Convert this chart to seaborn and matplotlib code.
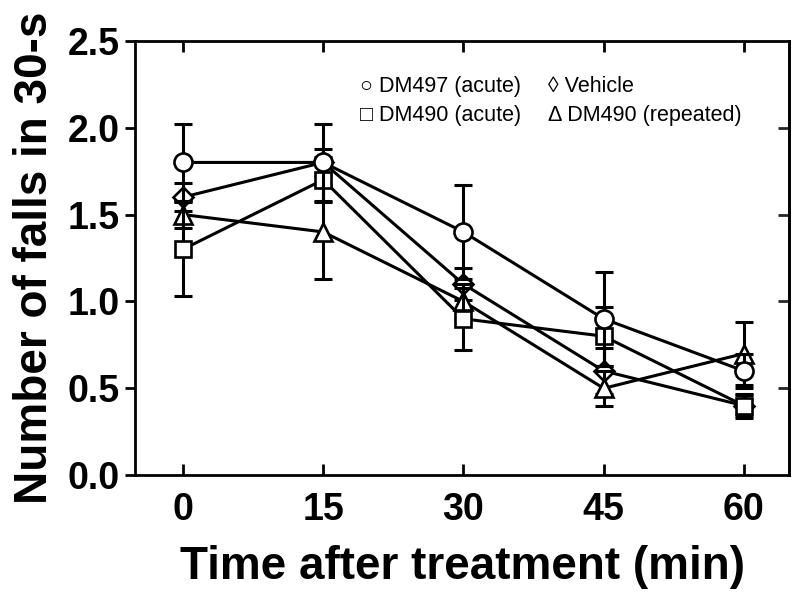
import matplotlib
matplotlib.use("Agg")
import matplotlib.pyplot as plt
import seaborn as sns
import pandas as pd

time_min = [0, 15, 30, 45, 60]

dm497_acute = [1.8, 1.8, 1.4, 0.9, 0.6]
dm497_acute_err = [0.22, 0.22, 0.27, 0.27, 0.10]

vehicle = [1.6, 1.8, 1.1, 0.6, 0.4]
vehicle_err = [0.08, 0.08, 0.09, 0.13, 0.06]

dm490_acute = [1.3, 1.7, 0.9, 0.8, 0.4]
dm490_acute_err = [0.27, 0.13, 0.18, 0.17, 0.07]

dm490_repeated = [1.5, 1.4, 1.0, 0.5, 0.7]
dm490_repeated_err = [0.08, 0.27, 0.10, 0.10, 0.18]

legend_labels = ["\u25cb DM497 (acute)", "\u25ca Vehicle",
                 "\u25a1 DM490 (acute)", "\u0394 DM490 (repeated)"]
x_ticks = [0, 15, 30, 45, 60]
y_ticks = [0.0, 0.5, 1.0, 1.5, 2.0, 2.5]

sns.set_theme(style="ticks")
plt.rcParams["font.family"] = ["Liberation Sans", "DejaVu Sans"]

fig = plt.figure(figsize=(8, 6), dpi=100)
ax = fig.add_axes([0.169, 0.208, 0.817, 0.724])

series = [
    (vehicle, vehicle_err, "D", 10),
    (dm490_repeated, dm490_repeated_err, "^", 13),
    (dm490_acute, dm490_acute_err, "s", 12),
    (dm497_acute, dm497_acute_err, "o", 13),
]

for i, (vals, errs, mk, ms) in enumerate(series):
    df = pd.DataFrame({"t": time_min, "v": vals})
    ax.errorbar(time_min, vals, yerr=errs, fmt="none", ecolor="black",
                elinewidth=2.2, capsize=6.5, capthick=2.2, zorder=2 + i)
    sns.lineplot(data=df, x="t", y="v", ax=ax, color="black", linewidth=2.2,
                 marker=mk, markersize=ms, markerfacecolor="white",
                 markeredgecolor="black", markeredgewidth=1.9,
                 zorder=3 + i)

ax.set_xlim(-5.1, 64.8)
ax.set_ylim(0, 2.5)
ax.set_xticks(x_ticks)
ax.set_yticks(y_ticks)
ax.set_yticklabels([f"{v:.1f}" for v in y_ticks])

for s in ax.spines.values():
    s.set_linewidth(2)
    s.set_color("black")
    s.set_visible(True)

ax.tick_params(axis="x", which="both", direction="in", top=True, bottom=True,
               length=8, width=2, labelsize=27, pad=12, colors="black")
ax.tick_params(axis="y", which="both", direction="out", left=True, right=False,
               length=7, width=2, labelsize=27, pad=4, colors="black")
for lbl in ax.get_xticklabels() + ax.get_yticklabels():
    lbl.set_fontweight("bold")

# right-side inward ticks
ax2 = ax.secondary_yaxis("right")
ax2.set_yticks([0.5, 1.0, 1.5, 2.0])
ax2.tick_params(direction="in", length=8, width=2, labelright=False)
ax2.spines["right"].set_linewidth(2)

ax.set_xlabel("Time after treatment (min)", fontsize=33, fontweight="bold",
              labelpad=12, color="black")
ax.set_ylabel("Number of falls in 30-s", fontsize=33, fontweight="bold",
              labelpad=8, color="black")

pos = [(0.344, 0.895), (0.631, 0.895), (0.344, 0.829), (0.631, 0.829)]
for (px, py), txt in zip(pos, legend_labels):
    ax.text(px, py, txt, transform=ax.transAxes, fontsize=15.5,
            ha="left", va="center", color="black",
            family=["Liberation Sans", "DejaVu Sans"])

ax.grid(False)
fig.savefig("out.png", dpi=100, facecolor="white")
